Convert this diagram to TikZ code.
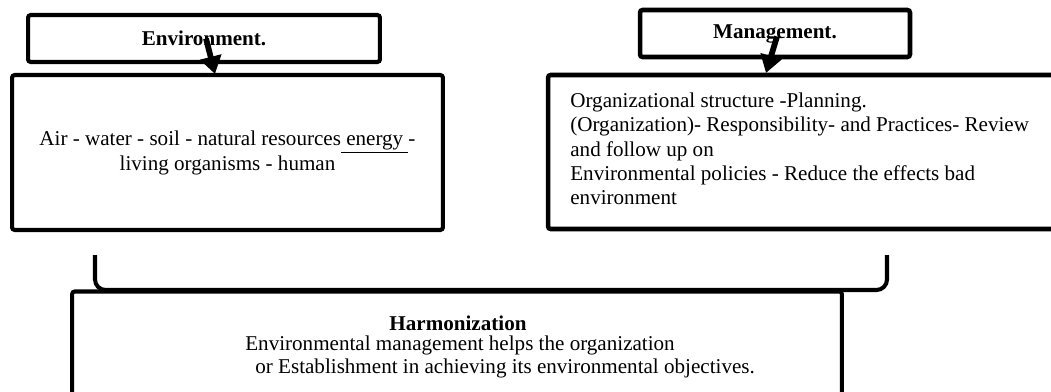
\documentclass[tikz,border=0pt]{standalone}
\usepackage{fontspec}
\setmainfont{Liberation Serif}
\usetikzlibrary{arrows.meta}
\begin{document}
\begin{tikzpicture}[x=0.02cm,y=-0.02cm,
    box/.style={draw,line width=2.3pt,rounded corners=1.5pt,inner sep=0pt},
    headtxt/.style={font=\fontsize{12}{14}\selectfont\bfseries},
    bodytxt/.style={font=\fontsize{12}{14.2}\selectfont},
    bigarrow/.style={line width=3.3pt,-{Triangle[width=12pt,length=10pt]}}]

    \useasboundingbox (0,0) rectangle (1051,392);

    % 上方两个标题框
    \node[box,minimum width=7.04cm,minimum height=0.94cm,headtxt] (envhead) at (204,38.5) {Environment.};
    \node[box,line width=2.6pt,minimum width=5.4cm,minimum height=0.94cm,headtxt] (mgmthead) at (775,33.5) {Management.};

    % 内容框
    \node[box,minimum width=8.62cm,minimum height=3.1cm,align=center,bodytxt] (envbox) at (227.5,152.5)
        {Air - water - soil - natural resources\underline{\ energy\ }-\\living organisms - human};
    \node[box,line width=2.6pt,minimum width=10.44cm,minimum height=3.08cm] (mgmtbox) at (809,152) {};
    \node[bodytxt,font=\fontsize{12}{13.8}\selectfont,align=left,anchor=west,inner sep=0pt] (mgmttxt) at (570,149)
        {Organizational structure -Planning.\\
         (Organization)- Responsibility- and Practices- Review\\
         and follow up on\\
         Environmental policies - Reduce the effects bad\\
         environment};

    % 箭头
    \coordinate (envtip) at (215,74);
    \coordinate (mgmttip) at (766,73);
    \draw[bigarrow] ([xshift=0.04cm]envhead.center) -- (envtip);
    \draw[bigarrow] ([xshift=0.04cm,yshift=-0.06cm]mgmthead.center) -- (mgmttip);

    % 括号
    \draw[line width=2.3pt,rounded corners=6pt] (95,255) -- (95,290) -- (887,290) -- (887,255);

    % 下方框
    \node[box,minimum width=15.4cm,minimum height=2.58cm] (harmbox) at (457,356) {};
    \node[headtxt] (harmtitle) at (458,323) {Harmonization};
    \node[bodytxt,font=\fontsize{12}{13}\selectfont,align=left,anchor=west,inner sep=0pt] (harmtxt) at (245,357)
        {Environmental management helps the organization\\
         \hspace{0.2cm}or Establishment in achieving its environmental objectives.};

\end{tikzpicture}
\end{document}
